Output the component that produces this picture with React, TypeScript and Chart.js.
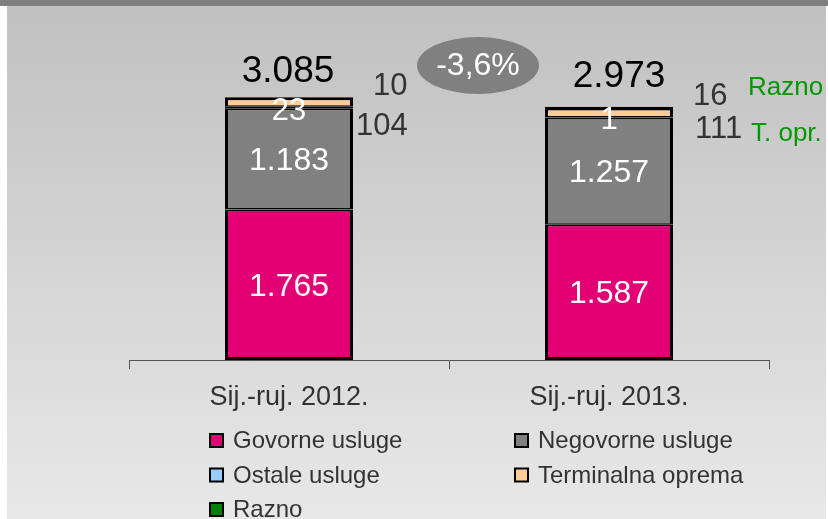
import React, { useEffect, useRef } from "react";
import { Chart, registerables } from "chart.js";

Chart.register(...registerables);

// ---- data ----
const categories = ["Sij.-ruj. 2012.", "Sij.-ruj. 2013."];
const govorne = [1765, 1587];
const negovorne = [1183, 1257];
const ostale = [23, 1];
const terminalna = [104, 111];
const razno = [10, 16];
const totals = [3085, 2973];
const changeLabel = "-3,6%";
const sideLabels = ["Razno", "T. opr."];
const seriesNames = [
  "Govorne usluge",
  "Negovorne usluge",
  "Ostale usluge",
  "Terminalna oprema",
  "Razno",
];
const seriesColors = ["#e20074", "#808080", "#99ccff", "#ffcc99", "#008000"];

// ---- style / layout constants ----
const FONT = '"Liberation Sans", Arial, sans-serif';
const TEXT = "#333333";
const totalDx = [-1, 10];
const totalDy = [-15, -20];
const topt_dx = [3, 22];
const topt_dy = [38, 31.5];
const borderWidths = [
  { top: 1.5, bottom: 3, left: 3, right: 3 },
  { top: 1.5, bottom: 1.5, left: 3, right: 3 },
  { top: 1, bottom: 1, left: 3, right: 3 },
  { top: 2.5, bottom: 1.5, left: 3, right: 3 },
  { top: 1, bottom: 1, left: 3, right: 3 },
];

function fmt(n: number): string {
  if (n >= 1000) {
    return Math.floor(n / 1000) + "." + String(n % 1000).padStart(3, "0");
  }
  return String(n);
}

const labelsPlugin = {
  id: "customLabels",
  afterDraw(chart: any) {
    const ctx = chart.ctx as CanvasRenderingContext2D;
    const area = chart.chartArea;
    const mG = chart.getDatasetMeta(0).data;
    const mN = chart.getDatasetMeta(1).data;
    const mO = chart.getDatasetMeta(2).data;
    const mR = chart.getDatasetMeta(4).data;
    ctx.save();
    ctx.textAlign = "center";
    ctx.textBaseline = "middle";
    ctx.fillStyle = "#ffffff";
    for (let i = 0; i < categories.length; i++) {
      ctx.font = `32px ${FONT}`;
      const g = mG[i];
      ctx.fillText(fmt(govorne[i]), g.x, (g.y + g.base) / 2 + 2);
      const n = mN[i];
      ctx.fillText(fmt(negovorne[i]), n.x, (n.y + n.base) / 2 + 2);
      const o = mO[i];
      ctx.font = `31px ${FONT}`;
      ctx.fillText(fmt(ostale[i]), o.x, o.base + 3);
    }
    ctx.textBaseline = "alphabetic";
    for (let i = 0; i < categories.length; i++) {
      const r = mR[i];
      const right = r.x + r.width / 2;
      ctx.fillStyle = "#000000";
      ctx.textAlign = "center";
      ctx.font = `37px ${FONT}`;
      ctx.fillText(fmt(totals[i]), r.x + totalDx[i], r.y + totalDy[i]);
      ctx.fillStyle = TEXT;
      ctx.textAlign = "left";
      ctx.font = `31px ${FONT}`;
      ctx.fillText(fmt(razno[i]), right + 20, r.y - 2);
      ctx.fillText(fmt(terminalna[i]), right + topt_dx[i], r.y + topt_dy[i]);
    }
    const last = mR[mR.length - 1];
    ctx.fillStyle = "#009900";
    ctx.font = `26px ${FONT}`;
    ctx.textAlign = "left";
    ctx.fillText(sideLabels[0], area.right - 21, last.y - 11.5);
    ctx.fillText(sideLabels[1], area.right - 18, last.y + 34.5);

    const cx = (area.left + area.right) / 2 + 29;
    const cy = area.top + 46.5;
    ctx.fillStyle = "#808080";
    ctx.beginPath();
    ctx.ellipse(cx, cy, 61, 28.5, 0, 0, Math.PI * 2);
    ctx.fill();
    ctx.fillStyle = "#ffffff";
    ctx.textAlign = "center";
    ctx.textBaseline = "middle";
    ctx.font = `32px ${FONT}`;
    ctx.fillText(changeLabel, cx, cy + 1);

    const colX = [209, 514];
    ctx.textBaseline = "alphabetic";
    ctx.textAlign = "left";
    ctx.font = `24px ${FONT}`;
    for (let k = 0; k < seriesNames.length; k++) {
      const col = k % 2;
      const row = Math.floor(k / 2);
      const bx = colX[col];
      const by = 433 + row * 34.5;
      ctx.fillStyle = "#000000";
      ctx.fillRect(bx, by, 15, 15);
      ctx.fillStyle = seriesColors[k];
      ctx.fillRect(bx + 2, by + 2, 11, 11);
      ctx.fillStyle = TEXT;
      ctx.fillText(seriesNames[k], bx + 24, by + 15);
    }
    ctx.restore();
  },
};

export default function App() {
  const ref = useRef<HTMLCanvasElement | null>(null);
  useEffect(() => {
    if (!ref.current) return;
    const seriesData = [govorne, negovorne, ostale, terminalna, razno];
    const chart = new Chart(ref.current, {
      type: "bar",
      data: {
        labels: categories,
        datasets: seriesData.map((d, k) => ({
          label: seriesNames[k],
          data: d,
          backgroundColor: seriesColors[k],
          borderColor: "#000000",
          borderWidth: borderWidths[k],
          borderSkipped: false,
          barPercentage: 0.4,
          categoryPercentage: 1,
        })),
      },
      options: {
        responsive: false,
        animation: false,
        layout: { padding: { left: 129, right: 59, top: 19, bottom: 0 } },
        plugins: {
          legend: { display: false },
          tooltip: { enabled: false },
        },
        scales: {
          x: {
            stacked: true,
            grid: {
              display: true,
              drawOnChartArea: false,
              drawTicks: true,
              tickLength: 9,
              color: "#555555",
              offset: true,
            },
            border: { display: true, color: "#555555", width: 1 },
            ticks: {
              color: TEXT,
              padding: 12,
              font: { family: FONT, size: 27 },
            },
            afterFit: (scale: any) => {
              scale.height = 159;
            },
          },
          y: {
            stacked: true,
            display: false,
            min: 0,
            max: 4000,
          },
        },
      },
      plugins: [labelsPlugin],
    });
    return () => chart.destroy();
  }, []);

  return (
    <div
      style={{
        position: "absolute",
        left: 0,
        top: 0,
        width: 828,
        height: 519,
        background: "#ffffff",
        overflow: "hidden",
      }}
    >
      <div
        style={{
          position: "absolute",
          left: 7,
          top: 0,
          width: 819,
          height: 519,
          background: "linear-gradient(to bottom, #c0c0c0 0%, #e8e8e8 100%)",
        }}
      />
      <div
        style={{
          position: "absolute",
          left: 0,
          top: 0,
          width: 828,
          height: 6,
          background: "#808080",
        }}
      />
      <canvas
        ref={ref}
        width={828}
        height={519}
        style={{ position: "absolute", left: 0, top: 0, display: "block" }}
      />
    </div>
  );
}
